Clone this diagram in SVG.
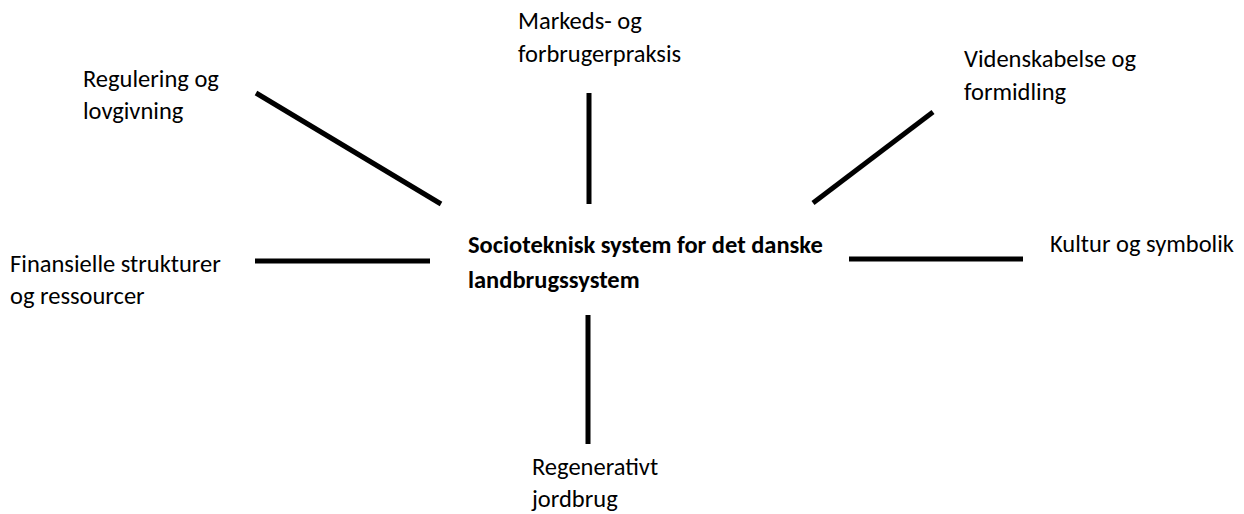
<svg xmlns="http://www.w3.org/2000/svg" width="1244" height="514" viewBox="0 0 1244 514">
<style>
text{font-family:Carlito,Lato,"Liberation Sans",sans-serif;font-size:24.5px;fill:#000}
.b{font-weight:bold}
.c line{stroke:#000;stroke-width:5}
</style>
<rect width="1244" height="514" fill="#fff"/>
<g class="c" id="connectors">
<line x1="256" y1="93" x2="441" y2="204"/>
<line x1="589" y1="93" x2="589" y2="204"/>
<line x1="933" y1="112" x2="813" y2="203"/>
<line x1="255" y1="261" x2="430" y2="261"/>
<line x1="849" y1="259" x2="1023" y2="259"/>
<line x1="588" y1="315" x2="588" y2="444"/>
</g>
<g id="center"><text class="b" x="468" y="253">Socioteknisk system for det danske</text><text class="b" x="468" y="288">landbrugssystem</text></g>
<g id="regulering"><text x="83" y="87">Regulering og</text><text x="83" y="119">lovgivning</text></g>
<g id="markeds"><text x="518" y="29">Markeds- og</text><text x="518" y="62">forbrugerpraksis</text></g>
<g id="viden"><text x="964" y="67">Videnskabelse og</text><text x="964" y="100">formidling</text></g>
<g id="finans"><text x="10" y="272">Finansielle strukturer</text><text x="10" y="304">og ressourcer</text></g>
<g id="kultur"><text x="1050" y="252">Kultur og symbolik</text></g>
<g id="regen"><text x="532" y="475">Regenerativt</text><text x="532" y="507">jordbrug</text></g>
</svg>
